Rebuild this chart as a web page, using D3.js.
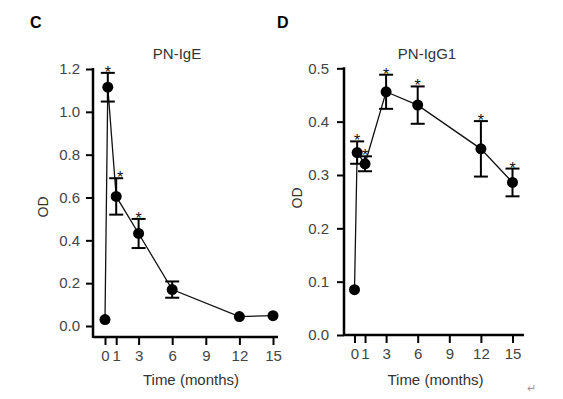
<!DOCTYPE html>
<html>
<head>
<meta charset="utf-8">
<script src="https://cdn.jsdelivr.net/npm/d3@7"></script>
<style>
  body { margin: 0; background: #fff; }
  svg { display: block; font-family: "Liberation Sans", Arial, sans-serif; }
</style>
</head>
<body>
<svg></svg>
<script>
// panel C: PN-IgE
let monthsC = [0, 0.25, 1, 3, 6, 12, 15];
let valuesC = [0.03, 1.115, 0.605, 0.432, 0.17, 0.044, 0.048];
let errorsC = [0, 0.067, 0.085, 0.068, 0.038, 0, 0];
let starsC = [false, true, true, true, false, false, false];
let yTicksC = [0, 0.2, 0.4, 0.6, 0.8, 1.0, 1.2];

// panel D: PN-IgG1
let monthsD = [0, 0.25, 1, 3, 6, 12, 15];
let valuesD = [0.085, 0.342, 0.321, 0.456, 0.431, 0.349, 0.286];
let errorsD = [0, 0.021, 0.014, 0.032, 0.035, 0.052, 0.026];
let starsD = [false, true, true, true, true, true, true];
let yTicksD = [0, 0.1, 0.2, 0.3, 0.4, 0.5];

let xTicks = [0, 1, 3, 6, 9, 12, 15];

let width = 563;
let height = 399;

let svg = d3.select("svg").attr("width", width).attr("height", height);

function drawPanel(opt) {
  let xScale = d3.scaleLinear().domain([0, 15]).range(opt.xRange);
  let yScale = d3.scaleLinear().domain([0, opt.yMax]).range(opt.yRange);

  let g = svg.append("g");

  // axes
  let yAxis = d3.axisLeft(yScale)
    .tickValues(opt.yTicks)
    .tickFormat(d3.format(".1f"))
    .tickSize(7)
    .tickPadding(opt.yPad);
  let yG = g.append("g")
    .attr("transform", "translate(" + opt.axisX + ",0)")
    .call(yAxis);

  let xAxis = d3.axisBottom(xScale)
    .tickValues(xTicks)
    .tickSize(8)
    .tickPadding(5);
  let xG = g.append("g")
    .attr("transform", "translate(0," + opt.axisY + ")")
    .call(xAxis);

  [yG, xG].forEach((a) => {
    a.select(".domain").remove();
    a.selectAll("line").attr("stroke", "#000").attr("stroke-width", 2);
    a.selectAll("text")
      .attr("fill", "#444")
      .style("font-size", "15px");
  });

  g.append("line")
    .attr("x1", opt.axisX).attr("x2", opt.axisX)
    .attr("y1", yScale(opt.yMax) - 1).attr("y2", opt.axisY + 1)
    .attr("stroke", "#000").attr("stroke-width", 2.5);
  g.append("line")
    .attr("x1", opt.axisX).attr("x2", opt.xEnd)
    .attr("y1", opt.axisY).attr("y2", opt.axisY)
    .attr("stroke", "#000").attr("stroke-width", 2.5);

  let pts = opt.months.map((m, i) => ({
    m: m, v: opt.values[i], e: opt.errors[i], s: opt.stars[i], i: i,
  }));

  // connecting line
  let line = d3.line()
    .x((d) => xScale(d.m))
    .y((d) => yScale(d.v));
  g.append("path")
    .datum(pts)
    .attr("d", line)
    .attr("fill", "none")
    .attr("stroke", "#111")
    .attr("stroke-width", 1.3);

  // error bars
  let eb = g.selectAll(".err")
    .data(pts.filter((d) => d.e > 0))
    .enter()
    .append("g")
    .attr("class", "err")
    .attr("stroke", "#000")
    .attr("stroke-width", 2);
  eb.append("line")
    .attr("x1", (d) => xScale(d.m)).attr("x2", (d) => xScale(d.m))
    .attr("y1", (d) => yScale(d.v + d.e)).attr("y2", (d) => yScale(d.v - d.e));
  eb.append("line")
    .attr("x1", (d) => xScale(d.m) - 7).attr("x2", (d) => xScale(d.m) + 7)
    .attr("y1", (d) => yScale(d.v + d.e)).attr("y2", (d) => yScale(d.v + d.e));
  eb.append("line")
    .attr("x1", (d) => xScale(d.m) - 7).attr("x2", (d) => xScale(d.m) + 7)
    .attr("y1", (d) => yScale(d.v - d.e)).attr("y2", (d) => yScale(d.v - d.e));

  // points
  g.selectAll(".pt")
    .data(pts)
    .enter()
    .append("circle")
    .attr("class", "pt")
    .attr("cx", (d) => xScale(d.m))
    .attr("cy", (d) => yScale(d.v))
    .attr("r", 5.5)
    .attr("fill", "#000");

  // significance stars
  g.selectAll(".star")
    .data(pts.filter((d) => d.s))
    .enter()
    .append("text")
    .attr("class", "star")
    .attr("x", (d) => xScale(d.m) + (opt.starShift[d.i] || 0))
    .attr("y", (d) => yScale(d.v + d.e) + 5)
    .attr("text-anchor", "middle")
    .attr("fill", "#111")
    .style("font-size", "16px")
    .text("*");

  // titles
  g.append("text")
    .attr("x", opt.titleX).attr("y", 59)
    .attr("text-anchor", "middle")
    .attr("fill", "#333")
    .style("font-size", "15px")
    .text(opt.title);
  g.append("text")
    .attr("x", opt.letterX).attr("y", 28)
    .attr("fill", "#000")
    .style("font-size", "16px")
    .style("font-weight", "bold")
    .text(opt.letter);
  g.append("text")
    .attr("transform", "translate(" + opt.odX + "," + opt.odY + ") rotate(-90)")
    .attr("text-anchor", "middle")
    .attr("fill", "#333")
    .style("font-size", "14px")
    .text("OD");
  g.append("text")
    .attr("x", (opt.xRange[0] + opt.xRange[1]) / 2 + 2).attr("y", 385)
    .attr("text-anchor", "middle")
    .attr("fill", "#333")
    .style("font-size", "15px")
    .text("Time (months)");
}

drawPanel({
  letter: "C", letterX: 30, title: "PN-IgE", titleX: 177,
  months: monthsC, values: valuesC, errors: errorsC, stars: starsC,
  yTicks: yTicksC, yMax: 1.2,
  xRange: [105, 273], yRange: [326, 69],
  axisX: 93, axisY: 337, xEnd: 278, yPad: 6,
  odX: 48, odY: 207, starShift: { 2: 4 },
});

drawPanel({
  letter: "D", letterX: 277, title: "PN-IgG1", titleX: 427,
  months: monthsD, values: valuesD, errors: errorsD, stars: starsD,
  yTicks: yTicksD, yMax: 0.5,
  xRange: [354.5, 512.5], yRange: [335, 68.3],
  axisX: 344, axisY: 335, xEnd: 524, yPad: 8,
  odX: 302, odY: 198, starShift: {},
});

svg.append("text")
  .attr("x", 527).attr("y", 392)
  .attr("fill", "#999")
  .style("font-size", "11px")
  .text("↵");
</script>
</body>
</html>
